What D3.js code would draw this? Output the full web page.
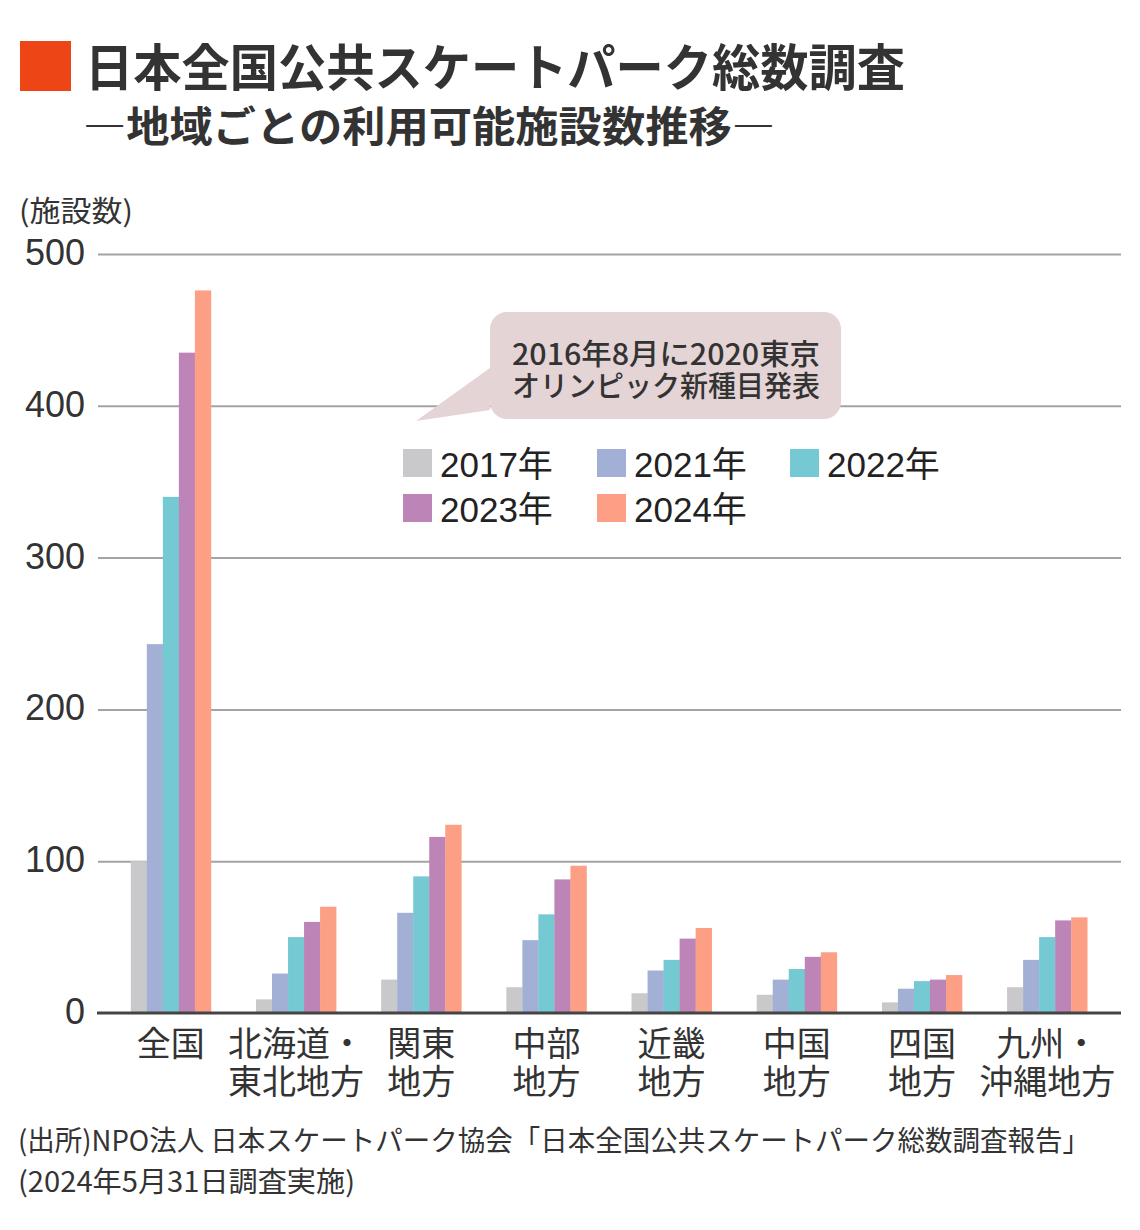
<!DOCTYPE html>
<html><head><meta charset="utf-8">
<script src="https://cdn.jsdelivr.net/npm/d3@7"></script>
<style>
html,body{margin:0;padding:0;background:#fff;}
svg{display:block;}
</style></head>
<body>
<svg id="chart" width="1140" height="1230"></svg>
<script>
const categories = ["全国","北海道・東北地方","関東地方","中部地方","近畿地方","中国地方","四国地方","九州・沖縄地方"];
const categoryLines = [["全国"],["北海道・","東北地方"],["関東","地方"],["中部","地方"],["近畿","地方"],["中国","地方"],["四国","地方"],["九州・","沖縄地方"]];
const seriesNames = ["2017年","2021年","2022年","2023年","2024年"];
const v2017 = [100, 9, 22, 17, 13, 12, 7, 17];
const v2021 = [243, 26, 66, 48, 28, 22, 16, 35];
const v2022 = [340, 50, 90, 65, 35, 29, 21, 50];
const v2023 = [435, 60, 116, 88, 49, 37, 22, 61];
const v2024 = [476, 70, 124, 97, 56, 40, 25, 63];
const yTicks = [0, 100, 200, 300, 400, 500];
const colors = ["#c9c9cb","#a3b0d6","#75c9d3","#bc84b7","#fc9f85"];

const seriesValues = [v2017, v2021, v2022, v2023, v2024];
const JP = "'Noto Sans CJK JP','Noto Sans',sans-serif";
const NUM = "'Liberation Sans','Noto Sans CJK JP',sans-serif";
const svg = d3.select("#chart");

// Title
svg.append("rect").attr("x",20).attr("y",41).attr("width",51).attr("height",50).attr("fill","#ee4516");
svg.append("text").attr("x",85).attr("y",86).attr("font-family",JP).attr("font-weight",700)
  .attr("font-size",50).attr("fill","#333").attr("textLength",820).attr("lengthAdjust","spacingAndGlyphs")
  .text("日本全国公共スケートパーク総数調査");
svg.append("text").attr("x",83).attr("y",142).attr("font-family",JP).attr("font-weight",700)
  .attr("font-size",42).attr("fill","#333").attr("textLength",692).attr("lengthAdjust","spacingAndGlyphs")
  .text("―地域ごとの利用可能施設数推移―");

// Axis unit
svg.append("text").attr("x",19).attr("y",222).attr("font-family",JP).attr("font-size",29).attr("fill","#333")
  .attr("textLength",114).attr("lengthAdjust","spacingAndGlyphs").text("(施設数)");

const x0 = 98, x1 = 1121;
const y = d3.scaleLinear().domain([0,500]).range([1013,254]);
const x = d3.scaleBand().domain(categories).range([97,1121]).paddingInner(0.36).paddingOuter(0.27);
const xs = d3.scaleBand().domain(seriesNames).range([0, x.bandwidth()]).padding(0);

// grid + y labels
const yAxis = d3.axisLeft(y).tickValues(yTicks).tickSize(-(x1-x0)).tickPadding(13).tickFormat(d3.format("d"));
const ga = svg.append("g").attr("transform",`translate(${x0},0)`).call(yAxis);
ga.select(".domain").remove();
ga.selectAll(".tick line").attr("stroke","#a3a3a3").attr("stroke-width",2);
ga.selectAll(".tick text").attr("font-family",NUM).attr("font-size",36).attr("fill","#333").attr("dy","0.32em").attr("y",-1);

// bars
const groups = svg.append("g").selectAll("g").data(categories).join("g")
  .attr("transform",d=>`translate(${x(d)},0)`);
groups.selectAll("rect").data((d,i)=>seriesNames.map((s,j)=>({s, v: seriesValues[j][i], j})))
  .join("rect")
  .attr("x",d=>xs(d.s)).attr("width",xs.bandwidth()+0.3)
  .attr("y",d=>y(d.v)).attr("height",d=>y(0)-y(d.v))
  .attr("fill",d=>colors[d.j]);

// baseline
svg.append("line").attr("x1",x0-1).attr("x2",x1).attr("y1",y(0)).attr("y2",y(0)).attr("stroke","#444").attr("stroke-width",3);
ga.selectAll(".tick").filter(d=>d===0).select("line").remove();

// x labels
const xl = svg.append("g").selectAll("text").data(categories).join("text")
  .attr("text-anchor","middle").attr("font-family",JP).attr("font-size",34).attr("fill","#333")
  .attr("transform",d=>`translate(${x(d)+x.bandwidth()/2},0)`);
xl.each(function(d,i){
  const t = d3.select(this);
  categoryLines[i].forEach((ln,k)=>{
    t.append("tspan").attr("x",0).attr("y",1056+k*38).text(ln);
  });
});

// callout bubble
const bub = svg.append("g");
bub.append("path").attr("d","M490,368 L416,421 L490,410 Z").attr("fill","#e5d4d5");
bub.append("rect").attr("x",490).attr("y",312).attr("width",351).attr("height",107).attr("rx",17).attr("fill","#e5d4d5");
bub.append("text").attr("x",512).attr("y",365).attr("font-family",JP).attr("font-weight",500).attr("font-size",29).attr("fill","#333")
  .attr("textLength",308).attr("lengthAdjust","spacingAndGlyphs").text("2016年8月に2020東京");
bub.append("text").attr("x",512).attr("y",397).attr("font-family",JP).attr("font-weight",500).attr("font-size",29).attr("fill","#333")
  .attr("textLength",308).attr("lengthAdjust","spacingAndGlyphs").text("オリンピック新種目発表");

// legend
const legPos = [[403,449],[597,449],[790,449],[403,494],[597,494]];
const leg = svg.append("g").selectAll("g").data(seriesNames).join("g")
  .attr("transform",(d,i)=>`translate(${legPos[i][0]},${legPos[i][1]})`);
leg.append("rect").attr("width",29).attr("height",28).attr("fill",(d,i)=>colors[i]);
leg.append("text").attr("x",37).attr("y",28).attr("font-family",NUM).attr("font-size",35).attr("fill","#222").text(d=>d);

// footer
svg.append("text").attr("x",18).attr("y",1151).attr("font-family",JP).attr("font-size",28).attr("fill","#333")
  .attr("textLength",1072).attr("lengthAdjust","spacingAndGlyphs")
  .text("(出所)NPO法人 日本スケートパーク協会「日本全国公共スケートパーク総数調査報告」");
svg.append("text").attr("x",18).attr("y",1192).attr("font-family",JP).attr("font-size",28).attr("fill","#333")
  .attr("textLength",337).attr("lengthAdjust","spacingAndGlyphs")
  .text("(2024年5月31日調査実施)");
</script>
</body></html>
